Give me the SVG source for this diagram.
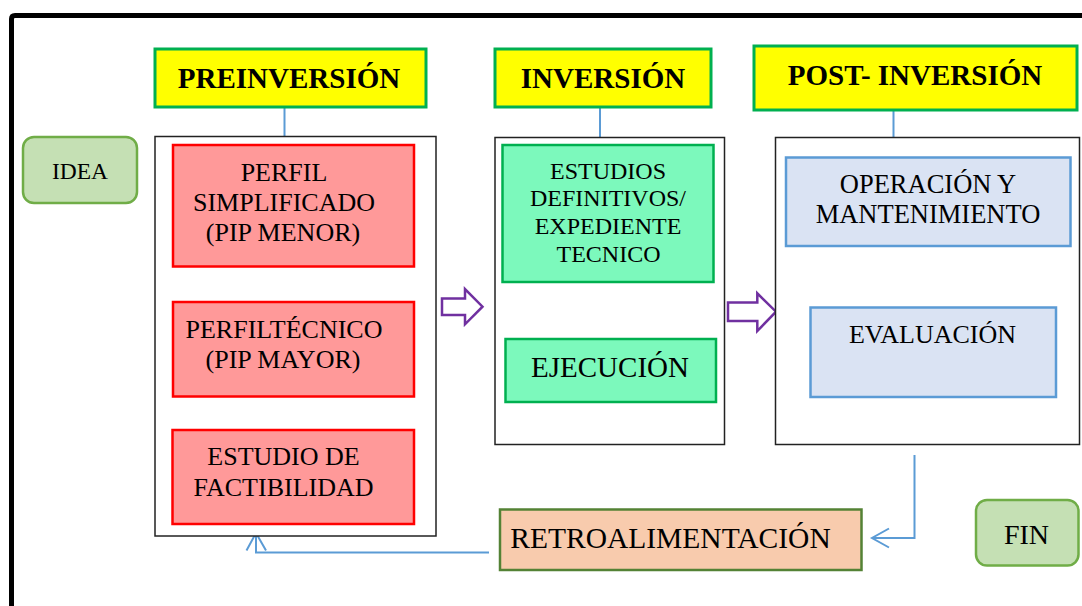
<svg xmlns="http://www.w3.org/2000/svg" width="1082" height="606" viewBox="0 0 1082 606">
<defs>
<style>
text{font-family:"Liberation Serif","Times New Roman",serif;fill:#000;text-anchor:middle}
.hdr{fill:#FFFF00;stroke:#00B050;stroke-width:3}
.hdrt{font-weight:bold;font-size:29px}
.cont{fill:#fff;stroke:#222;stroke-width:1.5}
.red{fill:#FF9999;stroke:#FF0000;stroke-width:2.5}
.grn{fill:#7CF9BC;stroke:#00B050;stroke-width:2.5}
.blu{fill:#DAE3F3;stroke:#5B9BD5;stroke-width:2.5}
.rnd{fill:#C5E0B4;stroke:#70AD47;stroke-width:2.5}
.conn{fill:none;stroke:#5B9BD5;stroke-width:2}
.blk{fill:#fff;stroke:#7030A0;stroke-width:2.5;stroke-linejoin:miter}
.t26{font-size:26px}
.t24{font-size:24px}
</style>
</defs>
<rect width="1082" height="606" fill="#fff"/>
<path d="M11.5,606 V19 Q11.5,15.5 15,15.5 H1082" fill="none" stroke="#000" stroke-width="5"/>

<g id="connectors">
<line class="conn" x1="284.5" y1="107" x2="284.5" y2="137"/>
<line class="conn" x1="600" y1="107" x2="600" y2="137"/>
<line class="conn" x1="893.5" y1="110" x2="893.5" y2="137"/>
<polyline class="conn" points="914.5,455 914.5,538 872,538"/>
<polyline class="conn" points="889,528.5 872,538 889,547.5" stroke-width="2.5"/>
<polyline class="conn" points="489,552.5 256,552.5 256,533" stroke="#7EA9DC"/>
<polyline class="conn" points="246.5,550.5 256,533 266,550.5" stroke-width="3"/>
</g>

<g id="pre-header">
<rect class="hdr" x="155" y="49" width="271" height="58"/>
<text class="hdrt" x="289" y="88.3">PREINVERSIÓN</text>
</g>
<g id="inv-header">
<rect class="hdr" x="495" y="49" width="216" height="58"/>
<text class="hdrt" x="603" y="88.3">INVERSIÓN</text>
</g>
<g id="post-header">
<rect class="hdr" x="754" y="46" width="323" height="64"/>
<text class="hdrt" x="915" y="85">POST- INVERSIÓN</text>
</g>

<g id="idea">
<rect class="rnd" x="23" y="137" width="114" height="66" rx="11"/>
<text x="80" y="179" font-size="23.5px">IDEA</text>
</g>

<g id="pre-container">
<rect class="cont" x="155" y="136.5" width="281" height="399.5"/>
</g>
<g id="perfil-simplificado">
<rect class="red" x="173" y="145" width="241" height="121.5"/>
<text class="t26" x="284" y="181">PERFIL</text>
<text class="t26" x="284" y="211">SIMPLIFICADO</text>
<text class="t26" x="283" y="241">(PIP MENOR)</text>
</g>
<g id="perfil-tecnico">
<rect class="red" x="173" y="302" width="241" height="94.5"/>
<text class="t26" x="284" y="338">PERFILTÉCNICO</text>
<text class="t26" x="283" y="368">(PIP MAYOR)</text>
</g>
<g id="factibilidad">
<rect class="red" x="172.5" y="430" width="241.5" height="94"/>
<text class="t26" x="283.5" y="465">ESTUDIO DE</text>
<text class="t26" x="283.5" y="496">FACTIBILIDAD</text>
</g>

<g id="arrow1">
<polygon class="blk" points="442,298.5 465,298.5 465,289 482.5,306.7 465,324.3 465,315 442,315"/>
</g>

<g id="inv-container">
<rect class="cont" x="495" y="137.5" width="229.5" height="307"/>
</g>
<g id="estudios">
<rect class="grn" x="502.5" y="145" width="211" height="137"/>
<text class="t24" x="608" y="179">ESTUDIOS</text>
<text class="t24" x="608" y="206">DEFINITIVOS/</text>
<text class="t24" x="608" y="234">EXPEDIENTE</text>
<text class="t24" x="608.5" y="261.5">TECNICO</text>
</g>
<g id="ejecucion">
<rect class="grn" x="505.5" y="339" width="210.5" height="63"/>
<text x="610" y="377" font-size="29px">EJECUCIÓN</text>
</g>

<g id="arrow2">
<polygon class="blk" points="728,302.5 757.3,302.5 757.3,293.3 776,311.7 757.3,331 757.3,321 728,321"/>
</g>

<g id="post-container">
<rect class="cont" x="775.5" y="137.5" width="304" height="307"/>
</g>
<g id="operacion">
<rect class="blu" x="786" y="157.5" width="284.5" height="88.5"/>
<text x="928" y="193" font-size="26.5px">OPERACIÓN Y</text>
<text x="928" y="222.5" font-size="26.5px">MANTENIMIENTO</text>
</g>
<g id="evaluacion">
<rect class="blu" x="810.5" y="307.5" width="245.5" height="89.5"/>
<text class="t26" x="932.5" y="342.5">EVALUACIÓN</text>
</g>

<g id="retro">
<rect x="500" y="509.5" width="361.5" height="60.5" fill="#F8CBAD" stroke="#548235" stroke-width="2.5"/>
<text x="670.5" y="547.5" font-size="29.5px">RETROALIMENTACIÓN</text>
</g>

<g id="fin">
<rect class="rnd" x="976" y="500" width="102.5" height="65.5" rx="11"/>
<text x="1026.5" y="543.5" font-size="28px">FIN</text>
</g>
</svg>
